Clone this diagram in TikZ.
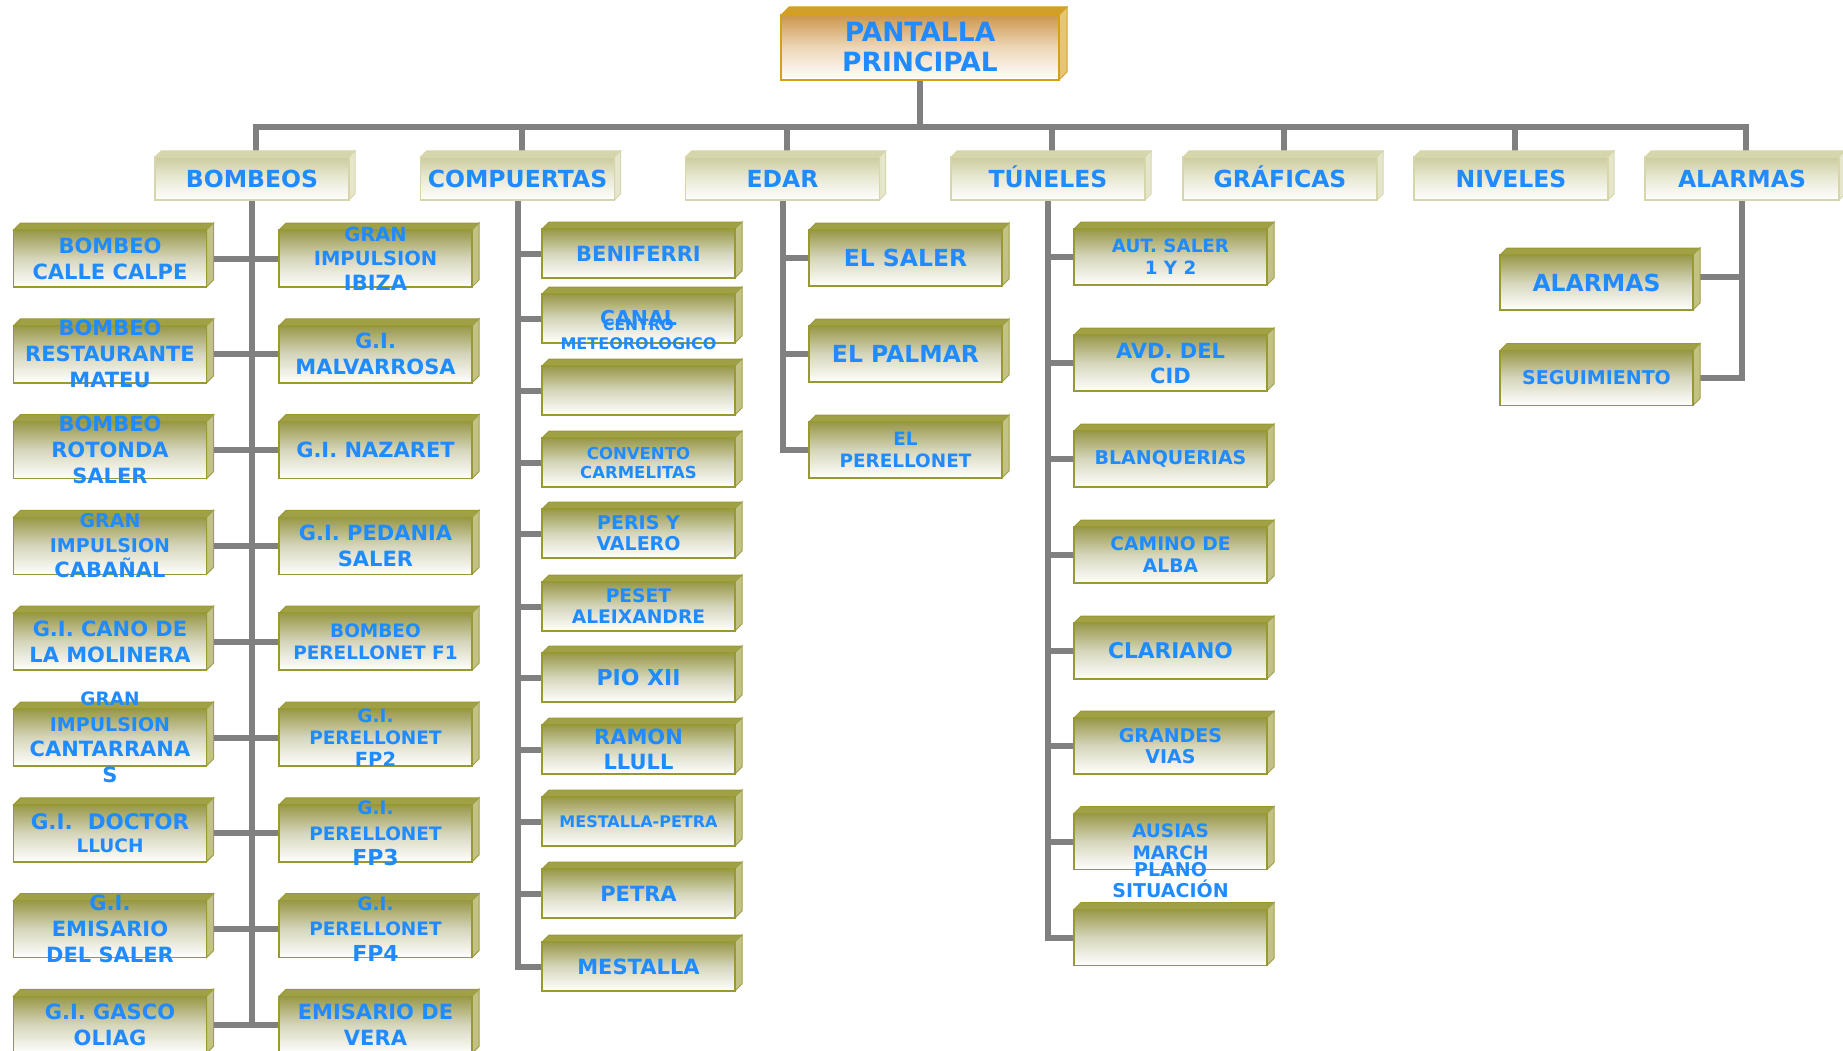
\documentclass[tikz,border=0pt]{standalone}
\usepackage{fontspec}
\setmainfont{DejaVu Sans}
\pgfdeclarelayer{lines}
\pgfdeclarelayer{bevel}
\pgfsetlayers{lines,bevel,main}
\definecolor{txt}{RGB}{31,139,255}
\definecolor{conn}{RGB}{128,128,128}
\definecolor{olv}{RGB}{153,153,51}
\definecolor{olvtop}{RGB}{152,152,72}
\definecolor{olvmid}{RGB}{214,214,188}
\definecolor{olvbev}{RGB}{160,160,70}
\definecolor{olvside}{RGB}{200,200,160}
\definecolor{hdb}{RGB}{214,214,170}
\definecolor{hdtop}{RGB}{204,204,158}
\definecolor{hdmid}{RGB}{234,234,214}
\definecolor{hdbev}{RGB}{214,214,172}
\definecolor{hdside}{RGB}{226,226,205}
\definecolor{pb}{RGB}{212,160,23}
\definecolor{ptop}{RGB}{205,150,75}
\definecolor{pmid}{RGB}{238,215,185}
\definecolor{pbev}{RGB}{210,160,40}
\definecolor{pside}{RGB}{225,200,140}
\tikzset{
  cbox/.style={rectangle, draw=olv, line width=1.5pt, inner sep=0pt, outer sep=0pt,
    top color=olvtop, bottom color=white, middle color=olvmid,
    minimum width=193pt, minimum height=56pt},
  hbox/.style={rectangle, draw=hdb, line width=1.5pt, inner sep=0pt, outer sep=0pt,
    top color=hdtop, bottom color=white, middle color=hdmid,
    minimum width=194pt, minimum height=43pt},
  pbox/.style={rectangle, draw=pb, line width=1.5pt, inner sep=0pt, outer sep=0pt,
    top color=ptop, bottom color=white, middle color=pmid,
    minimum width=278pt, minimum height=65pt},
  lb/.style 2 args={text=txt, align=center, inner sep=0pt, font={\bfseries\fontsize{#1}{#2}\selectfont}},
  hlb/.style={lb={23.5}{28}, text height=17pt, text depth=0pt},
  conn/.style={draw=conn, line width=6pt, line cap=rect, line join=miter},
}
\newcommand\bx[6]{\node[#1] (#2) at (#3) {};\node[lb={#4}{#5}] (#2-t) at (#2.center) {#6};}
\newcommand\bev[4]{%
  \filldraw[fill=#3, draw=#4, line width=1pt] (#1.north west) -- ([shift={(#2,-#2)}]#1.north west) -- ([shift={(#2,-#2)}]#1.north east) -- (#1.north east) -- cycle;
  \filldraw[fill=#4!60!white, draw=#3, line width=1pt] (#1.north east) -- ([shift={(#2,-#2)}]#1.north east) -- ([shift={(#2,-#2)}]#1.south east) -- (#1.south east) -- cycle;}
\begin{document}
\begin{tikzpicture}[x=1pt,y=-1pt]
\useasboundingbox (0,0) rectangle (1843,1051);
% root
\node[pbox] (pp) at (920,47.5) {};
\node[lb={26.5}{30}] (pp-t) at (pp.center) {PANTALLA\\PRINCIPAL};
% headers
\foreach \nm/\x/\tx in {hB/252/BOMBEOS, hC/517.5/COMPUERTAS, hE/782.5/EDAR, hT/1048/TÚNELES, hG/1280/GRÁFICAS, hN/1511/NIVELES, hA/1742/ALARMAS}{
  \node[hbox] (\nm) at (\x,178.5) {};
  \node[hlb] (\nm-t) at (\nm.center) {\tx};
}
% BOMBEOS left
\bx{cbox,minimum height=57pt}{b1}{110,258.5}{21}{26}{BOMBEO\\CALLE CALPE}
\bx{cbox,minimum height=57pt}{b2}{110,354.3}{21}{26}{BOMBEO\\RESTAURANTE\\MATEU}
\bx{cbox,minimum height=57pt}{b3}{110,450.1}{21}{26}{BOMBEO\\ROTONDA\\SALER}
\bx{cbox,minimum height=57pt}{b4}{110,545.9}{19}{25}{GRAN\\IMPULSION\\{\fontsize{21}{25}\selectfont CABAÑAL}}
\bx{cbox,minimum height=57pt}{b5}{110,641.7}{21}{26}{G.I. CANO DE\\LA MOLINERA}
\bx{cbox,minimum height=57pt}{b6}{110,737.5}{18.5}{25.5}{GRAN\\{\fontsize{19}{25.5}\selectfont IMPULSION}\\{\fontsize{21}{25.5}\selectfont CANTARRANA}\\{\fontsize{21}{25.5}\selectfont S}}
\bx{cbox,minimum height=57pt}{b7}{110,833.3}{21.5}{23}{G.I.\ \ DOCTOR\\{\fontsize{18.5}{23}\selectfont LLUCH}}
\bx{cbox,minimum height=57pt}{b8}{110,929.1}{21}{26}{G.I.\\EMISARIO\\DEL SALER}
\bx{cbox,minimum height=57pt}{b9}{110,1024.9}{21}{26}{G.I. GASCO\\OLIAG}
% BOMBEOS right
\bx{cbox,minimum height=57pt}{r1}{375.5,258.5}{19.5}{24.5}{GRAN\\IMPULSION\\{\fontsize{21}{24.5}\selectfont IBIZA}}
\bx{cbox,minimum height=57pt}{r2}{375.5,354.3}{21}{26}{G.I.\\MALVARROSA}
\bx{cbox,minimum height=57pt}{r3}{375.5,450.1}{21}{26}{G.I. NAZARET}
\bx{cbox,minimum height=57pt}{r4}{375.5,545.9}{21}{26}{G.I. PEDANIA\\SALER}
\bx{cbox,minimum height=57pt}{r5}{375.5,641.7}{18.5}{22}{BOMBEO\\PERELLONET F1}
\bx{cbox,minimum height=57pt}{r6}{375.5,737.5}{18.5}{22}{G.I.\\PERELLONET\\{\fontsize{19.5}{22}\selectfont FP2}}
\bx{cbox,minimum height=57pt}{r7}{375.5,833.3}{18.5}{25.5}{G.I.\\PERELLONET\\{\fontsize{22}{25.5}\selectfont FP3}}
\bx{cbox,minimum height=57pt}{r8}{375.5,929.1}{18.5}{25.5}{G.I.\\PERELLONET\\{\fontsize{22}{25.5}\selectfont FP4}}
\bx{cbox,minimum height=57pt}{r9}{375.5,1024.9}{21}{26}{EMISARIO DE\\VERA}
% COMPUERTAS
\bx{cbox,minimum height=49pt}{c1}{638.5,253.5}{21}{26}{BENIFERRI}
\bx{cbox,minimum height=49pt}{c2}{638.5,318.5}{20.5}{26}{CANAL}
\node[lb={15.5}{19}] (c2-u) at ([yshift=-15.5pt]c2.center) {CENTRO\\{\fontsize{16}{19}\selectfont METEOROLOGICO}};
\node[cbox,minimum height=49pt] (c3) at (638.5,390.5) {};
\bx{cbox,minimum height=49pt}{c4}{638.5,462.5}{16.5}{19}{CONVENTO\\CARMELITAS}
\bx{cbox,minimum height=49pt}{c5}{638.5,533.5}{19}{21}{PERIS Y\\VALERO}
\bx{cbox,minimum height=49pt}{c6}{638.5,606.5}{18.7}{21}{PESET\\ALEIXANDRE}
\bx{cbox,minimum height=49pt}{c7}{638.5,677.5}{22}{26}{PIO XII}
\bx{cbox,minimum height=49pt}{c8}{638.5,749.5}{21}{25.5}{RAMON\\LLULL}
\bx{cbox,minimum height=49pt}{c9}{638.5,821.5}{16}{20}{MESTALLA-PETRA}
\bx{cbox,minimum height=49pt}{c10}{638.5,893.5}{21}{26}{PETRA}
\bx{cbox,minimum height=49pt}{c11}{638.5,966.5}{21}{26}{MESTALLA}
% EDAR
\bx{cbox}{e1}{905.5,258}{23.5}{28}{EL SALER}
\bx{cbox}{e2}{905.5,354}{23.5}{28}{EL PALMAR}
\bx{cbox}{e3}{905.5,450}{18.4}{21.7}{EL\\PERELLONET}
% TUNELES
\bx{cbox}{t1}{1170.5,257}{18.3}{22}{AUT. SALER\\1 Y 2}
\bx{cbox}{t2}{1170.5,363}{21}{25}{AVD. DEL\\CID}
\bx{cbox}{t3}{1170.5,459}{19}{22}{BLANQUERIAS}
\bx{cbox}{t4}{1170.5,555}{18.7}{22}{CAMINO DE\\ALBA}
\bx{cbox}{t5}{1170.5,651}{21.7}{26}{CLARIANO}
\bx{cbox}{t6}{1170.5,746}{19}{21.5}{GRANDES\\VIAS}
\bx{cbox}{t7}{1170.5,841.5}{18.5}{21.7}{AUSIAS\\MARCH}
\node[cbox] (t8) at (1170.5,937.5) {};
\node[lb={19}{21}] (t8-t) at ([yshift=57.5pt]t8.center) {PLANO\\SITUACIÓN};
% ALARMAS
\bx{cbox,minimum height=55pt}{a1}{1596.5,282.5}{23.5}{28}{ALARMAS}
\bx{cbox,minimum height=55pt}{a2}{1596.5,378}{19}{22}{SEGUIMIENTO}
% bevels
\begin{pgfonlayer}{bevel}
\bev{pp}{8}{pbev}{pb}
\foreach \n in {hB,hC,hE,hT,hG,hN,hA}{\bev{\n}{6}{hdbev}{hdb}}
\foreach \n in {b1,b2,b3,b4,b5,b6,b7,b8,b9,r1,r2,r3,r4,r5,r6,r7,r8,r9,c1,c2,c3,c4,c5,c6,c7,c8,c9,c10,c11,e1,e2,e3,t1,t2,t3,t4,t5,t6,t7,t8,a1,a2}{\bev{\n}{7}{olvbev}{olv}}
\end{pgfonlayer}
% connectors
\begin{pgfonlayer}{lines}
\coordinate (barY) at (0,127);
\foreach \h in {hB,hC,hE,hT,hG,hN,hA}{\coordinate (d\h) at ([xshift=4pt]\h.north);}
\draw[conn] (pp.south) -- (pp.south |- barY);
\draw[conn] (dhB) -- (dhB |- barY) -- (dhA |- barY) -- (dhA);
\foreach \h in {hC,hE,hT,hG,hN}{\draw[conn] (d\h) -- (d\h |- barY);}
% BOMBEOS
\draw[conn] (hB.south) -- (hB.south |- b9.east);
\foreach \k in {1,...,9}{\draw[conn] (b\k.east) -- (r\k.west);}
% COMPUERTAS
\draw[conn] (hC.south) -- (hC.south |- c11.west) -- (c11.west);
\foreach \k in {1,...,10}{\draw[conn] (hC.south |- c\k.west) -- (c\k.west);}
% EDAR
\draw[conn] (hE.south) -- (hE.south |- e3.west) -- (e3.west);
\foreach \k in {1,2}{\draw[conn] (hE.south |- e\k.west) -- (e\k.west);}
% TUNELES
\draw[conn] (hT.south) -- (hT.south |- t8.west) -- (t8.west);
\foreach \k in {1,...,7}{\draw[conn] (hT.south |- t\k.west) -- (t\k.west);}
% ALARMAS
\coordinate (a1c) at ([yshift=6pt]a1.east);
\draw[conn] (hA.south) -- (hA.south |- a2.east) -- (a2.east);
\draw[conn] (hA.south |- a1c) -- (a1c);
\end{pgfonlayer}
\end{tikzpicture}
\end{document}
